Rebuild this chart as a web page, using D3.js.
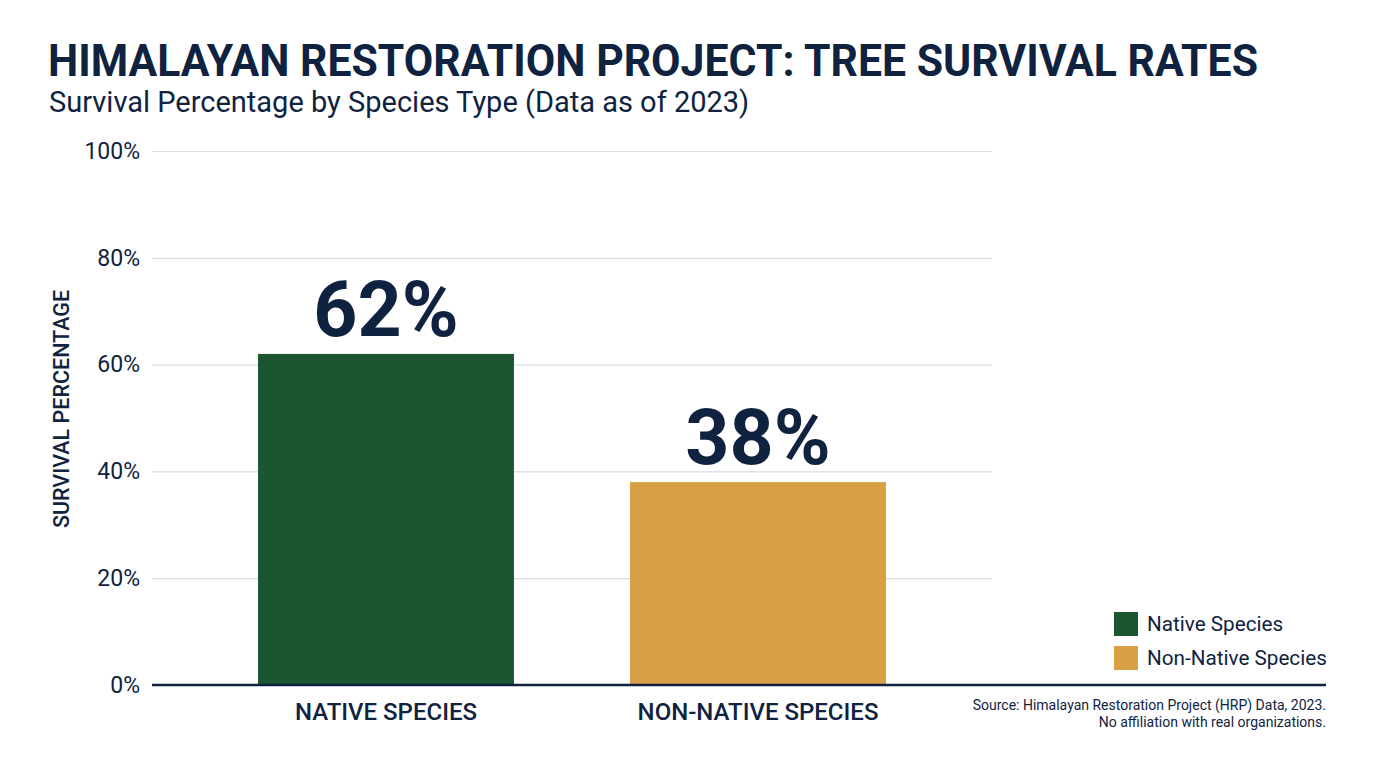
<!DOCTYPE html>
<html>
<head>
<meta charset="utf-8">
<script src="https://cdn.jsdelivr.net/npm/d3@7"></script>
<style>
  body { margin: 0; background: #fff; }
  text { font-family: Roboto, "Noto Sans", sans-serif; }
</style>
</head>
<body>
<div class="canvas"></div>
<script>
const categories = ["NATIVE SPECIES", "NON-NATIVE SPECIES"];
const survival = [62, 38];
const legendLabels = ["Native Species", "Non-Native Species"];
const yTicks = [0, 20, 40, 60, 80, 100];
const colors = ["#1b5630", "#d99f45"];

const navy = "#0f2341";
const width = 1376;
const height = 768;
const margin = { top: 151, right: 384, bottom: 83, left: 152 };
const graphWidth = width - margin.left - margin.right;
const graphHeight = height - margin.top - margin.bottom;

const svg = d3
  .select(".canvas")
  .append("svg")
  .attr("width", width)
  .attr("height", height);

// titles
svg.append("text")
  .attr("x", 48)
  .attr("y", 76)
  .attr("font-size", 45)
  .attr("font-weight", 700)
  .attr("fill", navy)
  .attr("textLength", 1210)
  .attr("lengthAdjust", "spacingAndGlyphs")
  .text("HIMALAYAN RESTORATION PROJECT: TREE SURVIVAL RATES");

svg.append("text")
  .attr("x", 49)
  .attr("y", 112)
  .attr("font-size", 29)
  .attr("fill", navy)
  .text("Survival Percentage by Species Type (Data as of 2023)");

const graph = svg
  .append("g")
  .attr("transform", `translate(${margin.left}, ${margin.top})`);

// scales
const x = d3.scaleBand()
  .domain(categories)
  .range([0, graphWidth])
  .paddingInner(0.312)
  .paddingOuter(0.285);
const y = d3.scaleLinear().domain([0, 100]).range([graphHeight, 0]);

// gridlines + y axis
const yAxis = d3.axisLeft(y)
  .tickValues(yTicks)
  .tickSize(-graphWidth)
  .tickPadding(12)
  .tickFormat((d) => d + "%");

const yAxisGroup = graph.append("g").call(yAxis);
yAxisGroup.select(".domain").remove();
yAxisGroup.selectAll(".tick line").attr("stroke", "#d9dce1").attr("stroke-width", 1.2);
yAxisGroup.selectAll(".tick text")
  .attr("font-size", 23)
  .attr("fill", navy)
  .style("font-family", "Roboto, sans-serif");

// bars
graph.selectAll("rect.bar")
  .data(survival)
  .enter()
  .append("rect")
  .attr("class", "bar")
  .attr("x", (d, i) => x(categories[i]))
  .attr("y", (d) => y(d))
  .attr("width", x.bandwidth())
  .attr("height", (d) => graphHeight - y(d))
  .attr("fill", (d, i) => colors[i]);

// value labels
graph.selectAll("text.value")
  .data(survival)
  .enter()
  .append("text")
  .attr("class", "value")
  .attr("x", (d, i) => x(categories[i]) + x.bandwidth() / 2)
  .attr("y", (d) => y(d) - 18)
  .attr("text-anchor", "middle")
  .attr("font-size", 77)
  .attr("font-weight", 700)
  .attr("fill", navy)
  .text((d) => d + "%");

// baseline, runs under the legend too
graph.append("line")
  .attr("x1", 0)
  .attr("x2", 1326 - margin.left)
  .attr("y1", y(0))
  .attr("y2", y(0))
  .attr("stroke", navy)
  .attr("stroke-width", 2.5);

// x labels
const xAxisGroup = graph.append("g")
  .attr("transform", `translate(0, ${graphHeight})`)
  .call(d3.axisBottom(x).tickSize(0).tickPadding(18));
xAxisGroup.select(".domain").remove();
xAxisGroup.selectAll(".tick text")
  .attr("font-size", 24)
  .attr("font-weight", 500)
  .attr("fill", navy)
  .style("font-family", "Roboto, sans-serif");

// y axis title
svg.append("text")
  .attr("transform", "translate(69, 409) rotate(-90)")
  .attr("text-anchor", "middle")
  .attr("font-size", 21.5)
  .attr("font-weight", 500)
  .attr("fill", navy)
  .text("SURVIVAL PERCENTAGE");

// legend
const legend = svg.append("g").attr("transform", "translate(1114, 612)");
const items = legend.selectAll("g")
  .data(legendLabels)
  .enter()
  .append("g")
  .attr("transform", (d, i) => `translate(0, ${i * 34})`);
items.append("rect")
  .attr("width", 24)
  .attr("height", 24)
  .attr("fill", (d, i) => colors[i]);
items.append("text")
  .attr("x", 33)
  .attr("y", 19)
  .attr("font-size", 20.7)
  .attr("fill", navy)
  .text((d) => d);

// source note
const note = svg.append("text")
  .attr("text-anchor", "end")
  .attr("font-size", 14)
  .attr("fill", navy);
note.append("tspan").attr("x", 1326).attr("y", 710)
  .text("Source: Himalayan Restoration Project (HRP) Data, 2023.");
note.append("tspan").attr("x", 1326).attr("y", 727)
  .text("No affiliation with real organizations.");
</script>
</body>
</html>
